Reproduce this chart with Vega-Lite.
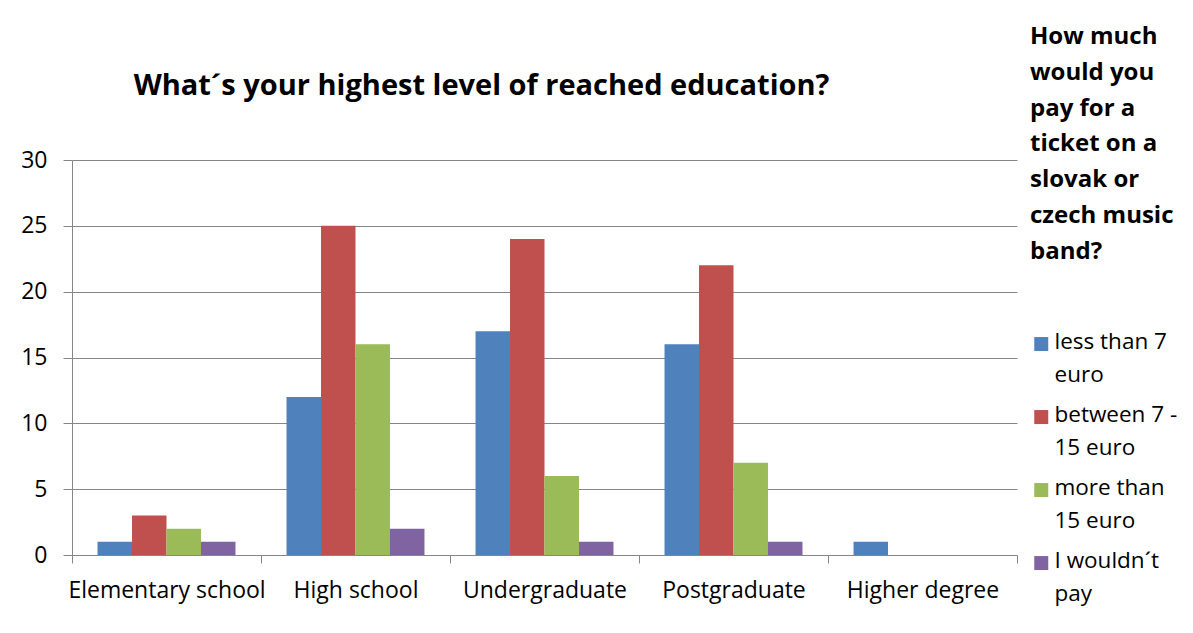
{
  "$schema": "https://vega.github.io/schema/vega-lite/v6.json",
  "autosize": "none",
  "width": 945,
  "height": 395,
  "padding": {"left": 72, "top": 160, "right": 176, "bottom": 78},
  "background": "white",
  "title": {
    "text": "What´s your highest level of reached education?",
    "anchor": "middle",
    "frame": "group",
    "dx": -63,
    "offset": -99,
    "baseline": "alphabetic",
    "font": "Open Sans",
    "fontSize": 29,
    "fontWeight": "bold",
    "color": "black"
  },
  "data": {
    "values": [
      {"education": "Elementary school", "price": "less than 7 euro", "count": 1},
      {"education": "Elementary school", "price": "between 7 - 15 euro", "count": 3},
      {"education": "Elementary school", "price": "more than 15 euro", "count": 2},
      {"education": "Elementary school", "price": "I wouldn´t pay", "count": 1},
      {"education": "High school", "price": "less than 7 euro", "count": 12},
      {"education": "High school", "price": "between 7 - 15 euro", "count": 25},
      {"education": "High school", "price": "more than 15 euro", "count": 16},
      {"education": "High school", "price": "I wouldn´t pay", "count": 2},
      {"education": "Undergraduate", "price": "less than 7 euro", "count": 17},
      {"education": "Undergraduate", "price": "between 7 - 15 euro", "count": 24},
      {"education": "Undergraduate", "price": "more than 15 euro", "count": 6},
      {"education": "Undergraduate", "price": "I wouldn´t pay", "count": 1},
      {"education": "Postgraduate", "price": "less than 7 euro", "count": 16},
      {"education": "Postgraduate", "price": "between 7 - 15 euro", "count": 22},
      {"education": "Postgraduate", "price": "more than 15 euro", "count": 7},
      {"education": "Postgraduate", "price": "I wouldn´t pay", "count": 1},
      {"education": "Higher degree", "price": "less than 7 euro", "count": 1},
      {"education": "Higher degree", "price": "between 7 - 15 euro", "count": 0},
      {"education": "Higher degree", "price": "more than 15 euro", "count": 0},
      {"education": "Higher degree", "price": "I wouldn´t pay", "count": 0}
    ]
  },
  "mark": {"type": "bar"},
  "encoding": {
    "x": {
      "field": "education",
      "type": "nominal",
      "sort": ["Elementary school", "High school", "Undergraduate", "Postgraduate", "Higher degree"],
      "scale": {"paddingInner": 0, "paddingOuter": 0},
      "axis": {
        "title": null,
        "labelAngle": 0,
        "tickBand": "extent",
        "grid": false,
        "tickSize": 8,
        "labelPadding": 16,
        "labelLimit": 300,
        "domainColor": "#868686",
        "tickColor": "#868686",
        "labelFont": "Open Sans",
        "labelFontSize": 23,
        "labelColor": "black"
      }
    },
    "xOffset": {
      "field": "price",
      "type": "nominal",
      "sort": ["less than 7 euro", "between 7 - 15 euro", "more than 15 euro", "I wouldn´t pay"],
      "scale": {"paddingInner": 0, "paddingOuter": 0.74}
    },
    "y": {
      "field": "count",
      "type": "quantitative",
      "scale": {"domain": [0, 30], "nice": false},
      "axis": {
        "title": null,
        "values": [0, 5, 10, 15, 20, 25, 30],
        "tickSize": 9,
        "labelPadding": 16,
        "domainColor": "#868686",
        "tickColor": "#868686",
        "gridColor": "#868686",
        "gridOpacity": 1,
        "labelFont": "Open Sans",
        "labelFontSize": 23,
        "labelColor": "black"
      }
    },
    "color": {
      "field": "price",
      "type": "nominal",
      "sort": ["less than 7 euro", "between 7 - 15 euro", "more than 15 euro", "I wouldn´t pay"],
      "scale": {
        "domain": ["less than 7 euro", "between 7 - 15 euro", "more than 15 euro", "I wouldn´t pay"],
        "range": ["#4F81BD", "#C0504D", "#9BBB59", "#8064A2"]
      },
      "legend": {
        "orient": "none",
        "legendX": 958,
        "legendY": -135,
        "title": ["How much", "would you", "pay for a", "ticket on a", "slovak or", "czech music", "band?"],
        "titleFont": "Open Sans",
        "titleFontSize": 24,
        "titleFontWeight": "bold",
        "titleColor": "black",
        "titleLineHeight": 35.8,
        "titlePadding": 69,
        "symbolType": "square",
        "symbolSize": 196,
        "symbolStrokeWidth": 0,
        "symbolOpacity": 1,
        "labelFont": "Open Sans",
        "labelFontSize": 22.5,
        "labelColor": "black",
        "labelLimit": 200,
        "labelOffset": 2,
        "labelBaseline": "top",
        "rowPadding": 17,
        "labelExpr": "datum.label == 'less than 7 euro' ? ['less than 7', 'euro'] : datum.label == 'between 7 - 15 euro' ? ['between 7 -', '15 euro'] : datum.label == 'more than 15 euro' ? ['more than', '15 euro'] : ['I wouldn´t', 'pay']",
        "encode": {"labels": {"update": {"lineHeight": {"value": 33}, "dy": {"value": -13}}}}
      }
    }
  },
  "config": {
    "view": {"stroke": null}
  }
}
